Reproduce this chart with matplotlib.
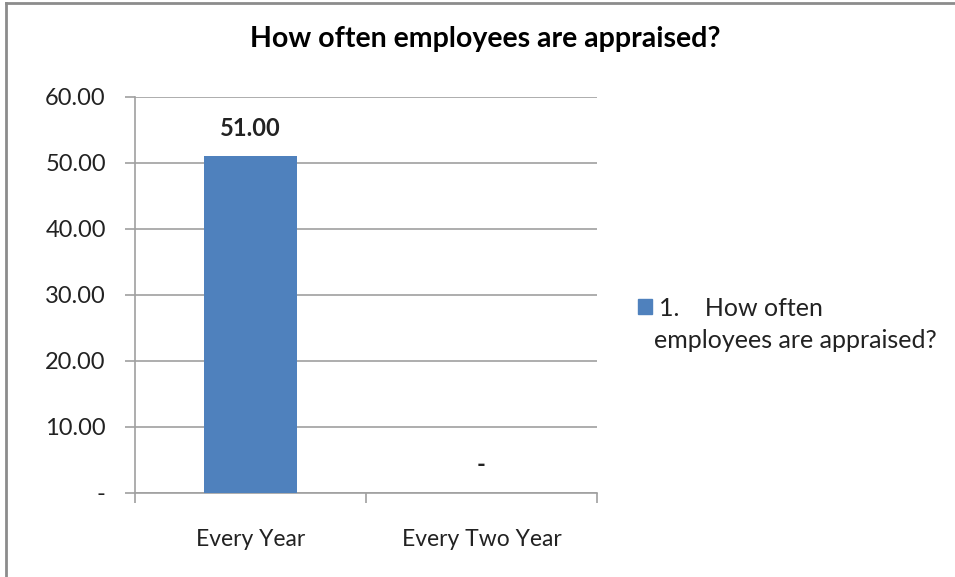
import matplotlib.pyplot as plt
from matplotlib.lines import Line2D
from matplotlib.patches import Patch
from matplotlib.ticker import FuncFormatter

categories = ["Every Year", "Every Two Year"]
values = [51.00, 0.00]
series_name = "1.    How often"
series_name_cont = "employees are appraised?"
title = "How often employees are appraised?"

BAR_COLOR = "#4F81BD"
GRID_COLOR = "#A0A0A0"
TEXT_COLOR = "#222222"

plt.rcParams["font.family"] = ["Lato", "DejaVu Sans"]


def money_fmt(v, _pos=None):
    # accounting style: zero shows as a dash
    return "-" if abs(v) < 1e-9 else f"{v:.2f}"


fig = plt.figure(figsize=(9.55, 5.77), dpi=100)
ax = fig.add_axes([0.1414, 0.1456, 0.4838, 0.6863])

x = range(len(categories))
ax.bar(x, values, width=0.40, color=BAR_COLOR, zorder=3)
ax.set_xlim(-0.5, len(categories) - 0.5)
ax.set_ylim(0, 60)
ax.set_yticks(range(0, 61, 10))
ax.yaxis.set_major_formatter(FuncFormatter(money_fmt))
ax.grid(axis="y", color=GRID_COLOR, linewidth=1.2, zorder=0)

for i, v in zip(x, values):
    ax.annotate(money_fmt(v), (i, v), xytext=(0, 12), textcoords="offset points",
                ha="center", va="bottom", fontsize=17, fontweight="bold",
                color=TEXT_COLOR)

# category ticks sit on the boundaries between groups
ax.set_xticks([i - 0.5 for i in range(len(categories) + 1)])
ax.set_xticklabels([])
ax.set_xticks(list(x), minor=True)
ax.set_xticklabels(categories, minor=True, fontsize=16.5, color=TEXT_COLOR)
ax.tick_params(axis="x", which="major", length=7, width=1.2, color=GRID_COLOR,
               direction="out")
ax.tick_params(axis="x", which="minor", length=0, pad=26)
ax.tick_params(axis="y", length=7, width=1.2, color=GRID_COLOR, pad=14,
               labelsize=17, labelcolor=TEXT_COLOR)

for side in ("top", "right"):
    ax.spines[side].set_visible(False)
for side in ("left", "bottom"):
    ax.spines[side].set_color(GRID_COLOR)
    ax.spines[side].set_linewidth(1.2)

fig.text(0.508, 0.932, title, ha="center", va="center", fontsize=20.5,
         fontweight="bold", color="black")

leg = fig.legend([Patch(color=BAR_COLOR)], [series_name], loc="center left",
                 bbox_to_anchor=(0.668, 0.466), frameon=False, fontsize=18,
                 handlelength=0.55, handleheight=0.55, handletextpad=0.3,
                 borderpad=0, borderaxespad=0, labelcolor=TEXT_COLOR)
fig.text(0.685, 0.410, series_name_cont, ha="left", va="center", fontsize=18,
         color=TEXT_COLOR)

# chart area border (left and top edges)
fig.add_artist(Line2D([0.0068, 0.0068], [0, 0.995], transform=fig.transFigure,
                      color="#8C8C8C", linewidth=2))
fig.add_artist(Line2D([0.0068, 1], [0.995, 0.995], transform=fig.transFigure,
                      color="#8C8C8C", linewidth=2))

fig.savefig("out.png", dpi=100)
